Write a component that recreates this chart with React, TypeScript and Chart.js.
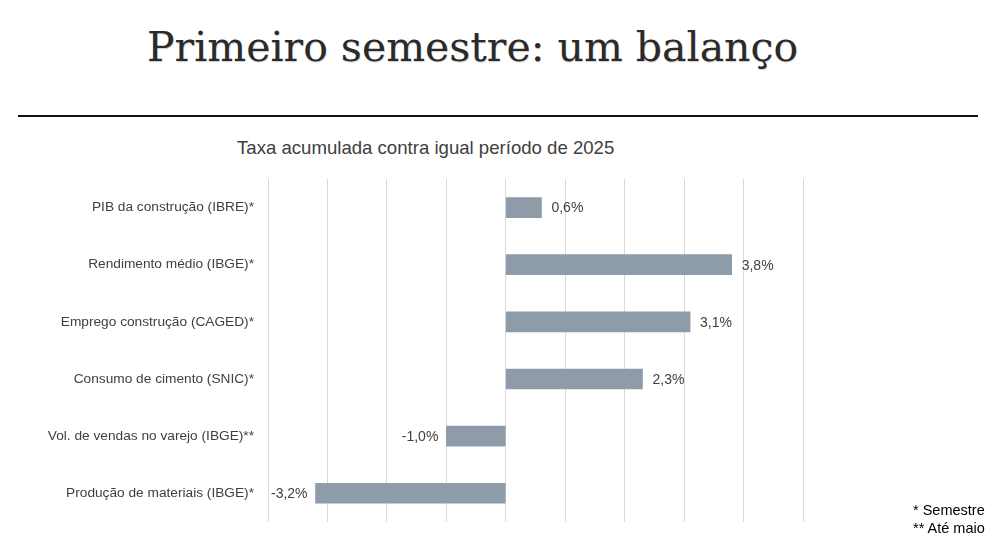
import React, { useEffect, useRef } from "react";
import { Chart, registerables } from "chart.js";

Chart.register(...registerables);

const categories = [
  "PIB da construção (IBRE)*",
  "Rendimento médio (IBGE)*",
  "Emprego construção (CAGED)*",
  "Consumo de cimento (SNIC)*",
  "Vol. de vendas no varejo (IBGE)**",
  "Produção de materiais (IBGE)*",
];
const values = [0.6, 3.8, 3.1, 2.3, -1.0, -3.2];
const xMin = -4;
const xMax = 5;
const titleText = "Primeiro semestre: um balanço";
const subtitleText = "Taxa acumulada contra igual período de 2025";
const footnotes = ["* Semestre", "** Até maio"];

const fmt = (v: number) => v.toFixed(1).replace(".", ",") + "%";

const labelPlugin = {
  id: "barLabels",
  afterDatasetsDraw(chart: any) {
    const ctx = chart.ctx;
    const meta = chart.getDatasetMeta(0);
    ctx.save();
    ctx.font = "14px 'Liberation Sans', Arial, sans-serif";
    ctx.fillStyle = "#404040";
    ctx.textBaseline = "middle";
    meta.data.forEach((bar: any, i: number) => {
      const v = values[i];
      if (v >= 0) {
        ctx.textAlign = "left";
        ctx.fillText(fmt(v), bar.x + 10, bar.y + 1);
      } else {
        ctx.textAlign = "right";
        ctx.fillText(fmt(v), bar.x - 8, bar.y + 1);
      }
    });
    ctx.restore();
  },
};

export default function App() {
  const ref = useRef<HTMLCanvasElement>(null);
  useEffect(() => {
    document.body.style.margin = "0";
    const chart = new Chart(ref.current!, {
      type: "bar",
      data: {
        labels: categories,
        datasets: [
          {
            data: values,
            backgroundColor: "#8e9caa",
            borderWidth: 0,
            barThickness: 20,
          },
        ],
      },
      options: {
        indexAxis: "y",
        animation: false,
        responsive: false,
        maintainAspectRatio: false,
        layout: { padding: { left: 0, right: 197, top: 179, bottom: 20 } },
        plugins: {
          legend: { display: false },
          tooltip: { enabled: false },
          title: { display: false },
        },
        scales: {
          x: {
            min: xMin,
            max: xMax,
            ticks: { display: false, stepSize: 1 },
            grid: { color: "#d9d9d9", lineWidth: 1, drawTicks: false },
            border: { display: false },
            afterFit: (s: any) => {
              s.height = 0;
            },
          },
          y: {
            ticks: {
              color: "#404040",
              font: { family: "'Liberation Sans', Arial, sans-serif", size: 13.7 },
              padding: 14,
            },
            grid: { display: false, drawTicks: false },
            border: { display: false },
            afterFit: (s: any) => {
              s.width = 268;
            },
          },
        },
      },
      plugins: [labelPlugin],
    });
    return () => chart.destroy();
  }, []);

  return (
    <div style={{ position: "absolute", left: 0, top: 0, width: 1000, height: 544, background: "#fff", overflow: "hidden" }}>
      <div
        style={{
          position: "absolute",
          left: 147,
          top: 17,
          fontFamily: "'DejaVu Serif', serif",
          fontSize: 41,
          color: "#2a2a2a",
          whiteSpace: "nowrap",
          lineHeight: "60px",
          textShadow: "0.5px 0.5px 1px rgba(0,0,0,0.2)",
        }}
      >
        {titleText}
      </div>
      <div style={{ position: "absolute", left: 18, top: 115, width: 960, height: 2, background: "#111" }} />
      <div
        style={{
          position: "absolute",
          left: 237,
          top: 137,
          fontFamily: "'Liberation Sans', Arial, sans-serif",
          fontSize: 18.6,
          color: "#404040",
          whiteSpace: "nowrap",
          lineHeight: "22px",
        }}
      >
        {subtitleText}
      </div>
      <canvas ref={ref} width={1000} height={544} style={{ position: "absolute", left: 0, top: 0, width: 1000, height: 544 }} />
      <div
        style={{
          position: "absolute",
          left: 913,
          top: 501,
          fontFamily: "'Liberation Sans', Arial, sans-serif",
          fontSize: 14.5,
          color: "#000",
          lineHeight: "18px",
          whiteSpace: "nowrap",
        }}
      >
        {footnotes.map((f) => (
          <div key={f}>{f}</div>
        ))}
      </div>
    </div>
  );
}
